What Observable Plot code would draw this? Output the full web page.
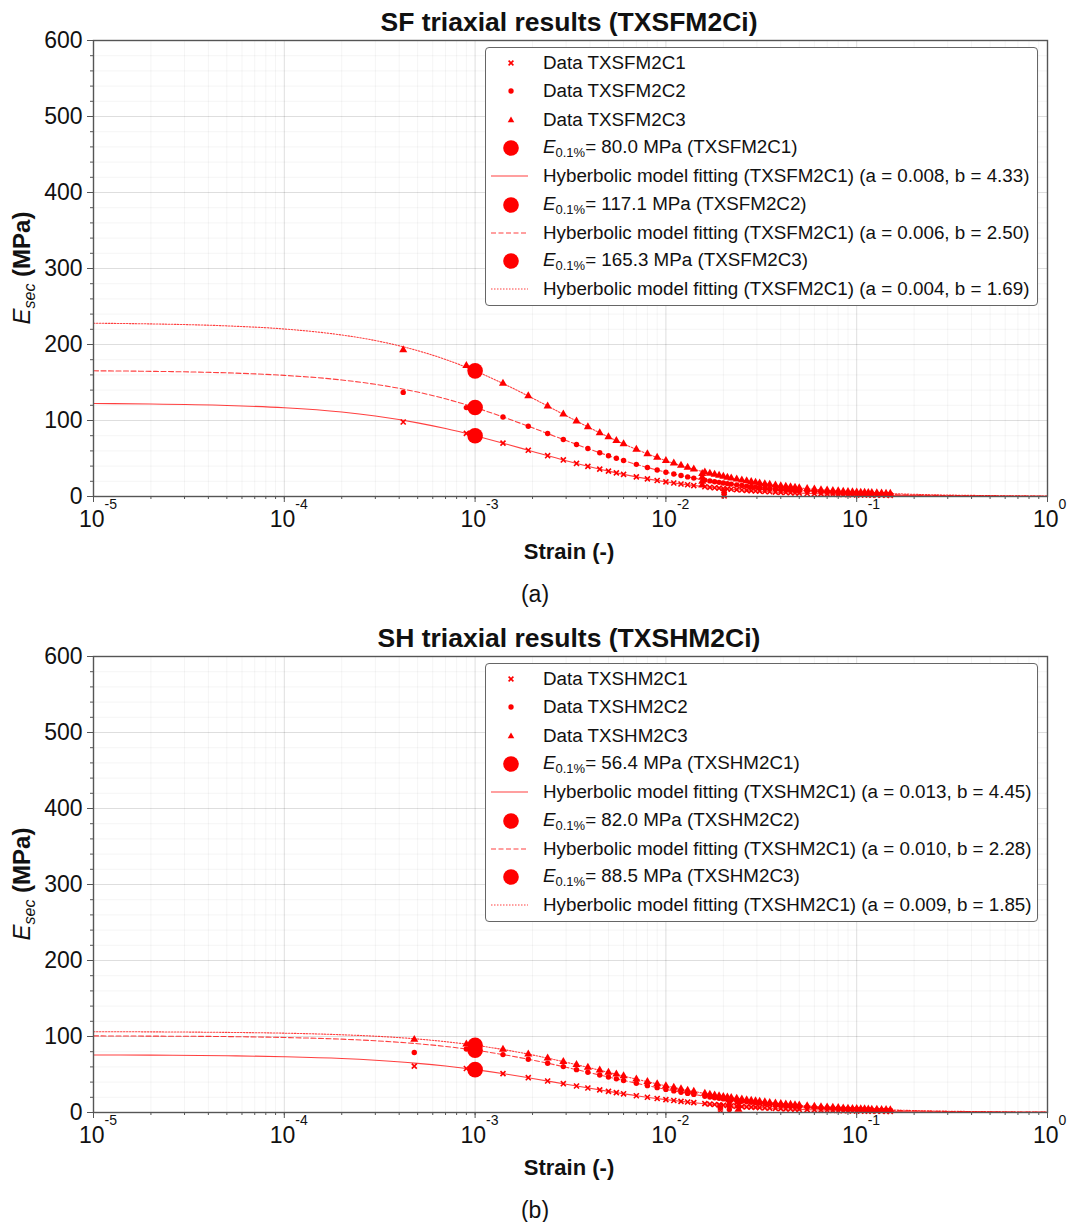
<!DOCTYPE html>
<html>
<head>
<meta charset="utf-8">
<script src="https://cdn.jsdelivr.net/npm/d3@7"></script>
<script src="https://cdn.jsdelivr.net/npm/@observablehq/plot@0.6"></script>
<style>
  html, body { margin: 0; padding: 0; background: #fff; overflow: hidden; }
  body { font-family: "Liberation Sans", Arial, sans-serif; color: #111; }
  #root { position: relative; width: 1067px; height: 1222px; }
  .panel { position: absolute; left: 0; width: 1067px; height: 616px; }
  .panel svg { position: absolute; left: 0; top: 0; }
  .lbl { position: absolute; white-space: nowrap; line-height: 1; transform: translate(-50%, -50%); }
  .legend { position: absolute; border: 1.3px solid #666; border-radius: 4px; background: #fff; }
  .row { position: absolute; left: 0; height: 24px; width: 100%; }
  .row svg { position: absolute; left: 0; top: 0; }
  .row span { position: absolute; left: 57px; top: 50%; transform: translateY(-50%); font-size: 18.8px; white-space: nowrap; line-height: 1; }
  sub.e { font-size: 13px; vertical-align: -4px; font-style: normal; }
</style>
</head>
<body>
<div id="root"></div>
<script>
// ---------------- data ----------------
// strains at which the test data points are plotted
const sfDataStrain = [0.00042,0.0009,0.0014,0.0019,0.0024,0.0029,0.0034,0.0039,0.0045,0.005,0.0055,0.006,0.007,0.008,0.009,0.01,0.011,0.012,0.013,0.014,0.016,0.018,0.02,0.022,0.025,0.028,0.031,0.035,0.04,0.045,0.05,0.06,0.07,0.08,0.09,0.1,0.11,0.12,0.135,0.15,
  0.017,0.019,0.021,0.0235,0.0265,0.0295,0.033,0.0375,0.0425,0.0475,0.055,0.065,0.075,0.085,0.095,0.105,0.115,0.1275,0.1425];
const sfC1 = [98,83,70.2,60.9,53.7,48.1,43.5,39.7,36.0,33.4,31.1,29.1,25.8,23.2,21.1,19.3,17.8,16.5,15.4,14.4,12.8,11.5,10.5,9.6,8.5,7.7,7.0,6.2,5.5,4.9,4.4,3.7,3.2,2.8,2.5,2.2,2.0,1.9,1.7,1.5,
  12.1,11.0,10.0,9.0,8.1,7.3,6.6,5.8,5.2,4.6,4.0,3.4,3.0,2.6,2.4,2.1,2.0,1.8,1.6];
const sfC2 = [137,117,104.7,92.5,82.9,75.0,68.5,63.1,57.6,53.7,50.3,47.3,42.3,38.2,34.8,32.0,29.6,27.6,25.8,24.2,21.6,19.5,17.7,16.3,14.5,13.1,11.9,10.6,9.4,8.4,7.6,6.4,5.5,4.8,4.3,3.9,3.5,3.2,2.9,2.6,
  20.5,18.6,17.0,15.3,13.7,12.4,11.2,9.9,8.8,8.0,6.9,5.9,5.1,4.5,4.1,3.7,3.4,3.1,2.7];
const sfC3 = [193,172,148.8,132.2,119.0,108.2,99.2,91.6,83.8,78.3,73.5,69.2,62.0,56.1,51.3,47.2,43.8,40.8,38.2,35.9,32.0,28.9,26.3,24.2,21.6,19.5,17.7,15.8,14.0,12.5,11.3,9.5,8.2,7.2,6.4,5.8,5.3,4.9,4.3,3.9,
  30.4,27.6,25.2,22.8,20.5,18.5,16.7,14.8,13.2,11.9,10.3,8.8,7.7,6.8,6.1,5.5,5.1,4.6,4.1];
// unloading drops seen near 2% strain
const sfC1DropStrain = [0.0202,0.0202,0.0202,0.0202];
const sfC1DropE = [8,5.5,3,0.8];
const sfC3DropStrain = [0.0155,0.0155,0.0155,0.0155];
const sfC3DropE = [30,25,20,15];

const shDataStrain = [0.00048,0.0009,0.0014,0.0019,0.0024,0.0029,0.0034,0.0039,0.0045,0.005,0.0055,0.006,0.007,0.008,0.009,0.01,0.011,0.012,0.013,0.014,0.016,0.018,0.02,0.022,0.025,0.028,0.031,0.035,0.04,0.045,0.05,0.06,0.07,0.08,0.09,0.1,0.11,0.12,0.135,0.15,
  0.017,0.019,0.021,0.0235,0.0265,0.0295,0.033,0.0375,0.0425,0.0475,0.055,0.065,0.075,0.085,0.095,0.105,0.115,0.1275,0.1425];
const shC1 = [61,57.9,51.1,45.8,41.4,37.9,34.8,32.3,29.7,27.8,26.1,24.6,22.1,20.1,18.4,17.0,15.8,14.7,13.8,13.0,11.6,10.5,9.6,8.8,7.8,7.1,6.5,5.8,5.1,4.6,4.1,3.5,3.0,2.6,2.4,2.1,1.9,1.8,1.6,1.4,
  11.0,10.0,9.2,8.3,7.4,6.8,6.1,5.4,4.8,4.3,3.8,3.2,2.8,2.5,2.2,2.0,1.9,1.7,1.5];
const shC2 = [79,83.5,76.2,70.1,64.9,60.4,56.4,53.0,49.4,46.7,44.3,42.2,38.5,35.3,32.7,30.4,28.4,26.7,25.1,23.8,21.4,19.5,17.9,16.5,14.8,13.5,12.3,11.1,9.8,8.8,8.0,6.8,5.9,5.2,4.6,4.2,3.8,3.5,3.1,2.8,
  20.4,18.7,17.2,15.6,14.1,12.9,11.7,10.4,9.3,8.4,7.3,6.3,5.5,4.9,4.4,4.0,3.6,3.3,3.0];
const shC3 = [96,90.0,82.9,76.8,71.6,67.0,63.0,59.4,55.6,52.8,50.3,48.0,43.9,40.5,37.6,35.1,32.9,31.0,29.2,27.7,25.0,22.8,21.0,19.5,17.5,15.9,14.6,13.1,11.7,10.5,9.5,8.1,7.0,6.2,5.5,5.0,4.6,4.2,3.7,3.4,
  23.9,21.9,20.2,18.4,16.7,15.2,13.8,12.3,11.0,10.0,8.7,7.5,6.6,5.8,5.2,4.8,4.4,4.0,3.6];
const shC1DropStrain = [0.0193,0.0193,0.0193];
const shC1DropE = [9,6,3];
const shC2DropStrain = [0.0215,0.0215,0.0215];
const shC2DropE = [13,8.5,4];
const shC3DropStrain = [0.024,0.024,0.024];
const shC3DropE = [14,9,4];

// fitted hyperbolic curves
const fitStrain = [1e-5,2e-5,5e-5,1e-4,2e-4,3e-4,5e-4,7e-4,1e-3,1.5e-3,2e-3,3e-3,5e-3,7e-3,1e-2,1.5e-2,2e-2,3e-2,5e-2,7e-2,0.1,0.2,0.5,1];
const sfFit1 = [122.3,121.7,119.8,116.7,111.1,105.9,96.9,89.4,80.0,68.1,59.3,47.1,33.4,25.8,19.3,13.6,10.5,7.2,4.4,3.2,2.2,1.13,0.46,0.23];
const sfFit2 = [165.4,164.7,162.7,159.4,153.3,147.6,137.4,128.5,117.1,102.0,90.4,73.6,53.7,42.3,32.0,22.8,17.7,12.3,7.6,5.5,3.9,1.96,0.79,0.40];
const sfFit3 = [228.0,227.1,224.5,220.4,212.5,205.2,191.9,180.3,165.3,145.1,129.4,106.3,78.3,62.0,47.2,33.8,26.3,18.3,11.3,8.2,5.8,2.9,1.18,0.59];
const shFit1 = [75.7,75.5,74.7,73.4,71.1,68.8,64.7,61.1,56.4,50.0,44.8,37.2,27.8,22.1,17.0,12.2,9.6,6.7,4.1,3.0,2.1,1.08,0.44,0.22];
const shFit2 = [100.8,100.5,99.9,98.7,96.5,94.4,90.5,86.9,82.0,74.9,69.0,59.5,46.7,38.5,30.4,22.5,17.9,12.7,8.0,5.9,4.2,2.1,0.86,0.43];
const shFit3 = [106.3,106.1,105.4,104.4,102.3,100.4,96.7,93.2,88.5,81.6,75.7,66.1,52.8,43.9,35.1,26.3,21.0,15.0,9.5,7.0,5.0,2.6,1.04,0.52];

// E at 0.1 % strain
const e01Strain = 0.001;
const sfE01 = [80.0, 117.1, 165.3];
const shE01 = [56.4, 82.0, 88.5];

// tick values and texts
const xMajorTicks = [1e-5,1e-4,1e-3,1e-2,1e-1,1];
const xExponents = ["-5","-4","-3","-2","-1","0"];
const yMajorTicks = [0,100,200,300,400,500,600];

const sfTitle = "SF triaxial results (TXSFM2Ci)";
const shTitle = "SH triaxial results (TXSHM2Ci)";
const sfNames = ["TXSFM2C1","TXSFM2C2","TXSFM2C3"];
const shNames = ["TXSHM2C1","TXSHM2C2","TXSHM2C3"];
const sfFitParams = ["(a = 0.008, b = 4.33)","(a = 0.006, b = 2.50)","(a = 0.004, b = 1.69)"];
const shFitParams = ["(a = 0.013, b = 4.45)","(a = 0.010, b = 2.28)","(a = 0.009, b = 1.85)"];
const xLabel = "Strain (-)";

// ---------------- drawing ----------------
const FONT = '"Liberation Sans", Arial, sans-serif';
const RED = "#ff0000";
const dashes = [null, "5,2.5", "1.5,1.5"];
const xMinorTicks = d3.scaleLog().domain([1e-5, 1]).ticks();
const yMinorTicks = d3.range(0, 601, 20);

function rows(xs, ys) { return xs.map((x, i) => ({x, y: ys[i]})); }

function chart(c) {
  const fitMarks = c.fits.map((f, i) =>
    Plot.line(rows(fitStrain, f), {x: "x", y: "y", stroke: RED, strokeOpacity: 0.75, strokeWidth: 1.1,
      strokeDasharray: dashes[i], curve: "monotone-x"}));
  return Plot.plot({
    width: 1067, height: 540,
    marginTop: 40, marginBottom: 44, marginLeft: 93, marginRight: 20,
    x: {type: "log", domain: [1e-5, 1], label: null},
    y: {domain: [0, 600], label: null},
    style: {fontFamily: FONT, background: "transparent", color: "#111"},
    marks: [
      Plot.gridX({ticks: xMinorTicks, stroke: "#000", strokeOpacity: 0.045}),
      Plot.gridY({ticks: yMinorTicks, stroke: "#000", strokeOpacity: 0.045}),
      Plot.gridX({ticks: xMajorTicks, stroke: "#000", strokeOpacity: 0.09}),
      Plot.gridY({ticks: yMajorTicks, stroke: "#000", strokeOpacity: 0.09}),
      Plot.axisY({ticks: yMinorTicks, tickSize: 3, tickFormat: () => "", stroke: "#555"}),
      Plot.axisY({ticks: yMajorTicks, tickSize: 6, tickPadding: 5, fontSize: 23, stroke: "#555", fill: "#111"}),
      Plot.axisX({ticks: xMinorTicks, tickSize: 3, tickFormat: () => "", stroke: "#555"}),
      Plot.axisX({ticks: xMajorTicks, tickSize: 6, tickFormat: () => "", stroke: "#555"}),
      Plot.text(xMajorTicks, {x: d => d, frameAnchor: "bottom", text: () => "10", textAnchor: "end",
        dx: 11, dy: 30, fontSize: 23, fill: "#111"}),
      Plot.text(xMajorTicks, {x: d => d, frameAnchor: "bottom", text: (d, i) => xExponents[i], textAnchor: "start",
        dx: 11, dy: 12, fontSize: 14, fill: "#111"}),
      ...fitMarks,
      Plot.dot(rows(c.strain, c.d1), {x: "x", y: "y", symbol: "times", r: 2.4, stroke: RED, strokeWidth: 1.6}),
      Plot.dot(rows(c.drop1[0], c.drop1[1]), {x: "x", y: "y", symbol: "times", r: 2.4, stroke: RED, strokeWidth: 1.6}),
      Plot.dot(rows(c.strain, c.d2), {x: "x", y: "y", r: 2.7, fill: RED}),
      Plot.dot(rows(c.drop2[0], c.drop2[1]), {x: "x", y: "y", r: 2.7, fill: RED}),
      Plot.dot(rows(c.strain, c.d3), {x: "x", y: "y", symbol: "triangle", r: 3, fill: RED}),
      Plot.dot(rows(c.drop3[0], c.drop3[1]), {x: "x", y: "y", symbol: "triangle", r: 3, fill: RED}),
      Plot.dot(c.e01, {x: () => e01Strain, y: d => d, r: 7.8, fill: RED}),
      Plot.frame({stroke: "#555", strokeWidth: 1.4})
    ]
  });
}

function symSvg(kind, dash) {
  const s = '<svg width="50" height="24" viewBox="0 0 50 24">';
  const cx = 25, cy = 12;
  let b = "";
  if (kind === "times") b = `<path d="M${cx-2.4},${cy-2.4}L${cx+2.4},${cy+2.4}M${cx+2.4},${cy-2.4}L${cx-2.4},${cy+2.4}" stroke="${RED}" stroke-width="1.6"/>`;
  else if (kind === "circle") b = `<circle cx="${cx}" cy="${cy}" r="2.7" fill="${RED}"/>`;
  else if (kind === "triangle") b = `<path d="M${cx},${cy-3.6}L${cx+3.3},${cy+2.2}L${cx-3.3},${cy+2.2}Z" fill="${RED}"/>`;
  else if (kind === "big") b = `<circle cx="${cx}" cy="${cy}" r="7.8" fill="${RED}"/>`;
  else b = `<line x1="5" x2="42" y1="${cy}" y2="${cy}" stroke="${RED}" stroke-opacity="0.75" stroke-width="1.2" ${dash ? `stroke-dasharray="${dash}"` : ""}/>`;
  return s + b + "</svg>";
}

function panel(top, c) {
  const p = document.createElement("div");
  p.className = "panel";
  p.style.top = top + "px";
  p.appendChild(chart(c));

  const add = (html, cx, cy, style) => {
    const d = document.createElement("div");
    d.className = "lbl";
    d.innerHTML = html;
    d.style.left = cx + "px"; d.style.top = cy + "px";
    Object.assign(d.style, style || {});
    p.appendChild(d);
    return d;
  };
  add(c.title, 569, 22, {fontSize: "26.5px", fontWeight: "bold"});
  add(xLabel, 569, 552, {fontSize: "22px", fontWeight: "bold"});
  add(c.caption, 535, 594, {fontSize: "23px"});
  add('<i>E</i><sub style="font-size:16px;font-style:italic;vertical-align:-5px">sec</sub> <b>(MPa)</b>', 24, 268,
      {fontSize: "24px", transform: "translate(-50%,-50%) rotate(-90deg)"});

  // legend
  const lg = document.createElement("div");
  lg.className = "legend";
  Object.assign(lg.style, {left: "485px", top: "47px", width: "551px", height: "257px"});
  const entries = [
    ["times", null, "Data " + c.names[0]],
    ["circle", null, "Data " + c.names[1]],
    ["triangle", null, "Data " + c.names[2]],
    ["big", null, `<i>E</i><sub class="e">0.1%</sub>= ${c.e01[0].toFixed(1)} MPa (${c.names[0]})`],
    ["line", dashes[0], `Hyberbolic model fitting (${c.names[0]}) ${c.params[0]}`],
    ["big", null, `<i>E</i><sub class="e">0.1%</sub>= ${c.e01[1].toFixed(1)} MPa (${c.names[1]})`],
    ["line", dashes[1], `Hyberbolic model fitting (${c.names[0]}) ${c.params[1]}`],
    ["big", null, `<i>E</i><sub class="e">0.1%</sub>= ${c.e01[2].toFixed(1)} MPa (${c.names[2]})`],
    ["line", dashes[2], `Hyberbolic model fitting (${c.names[0]}) ${c.params[2]}`]
  ];
  entries.forEach((e, i) => {
    const r = document.createElement("div");
    r.className = "row";
    r.style.top = (15 + i * 28.3 - 12) + "px";
    r.innerHTML = symSvg(e[0], e[1]) + `<span>${e[2]}</span>`;
    lg.appendChild(r);
  });
  p.appendChild(lg);
  document.getElementById("root").appendChild(p);
}

panel(0, {
  title: sfTitle, caption: "(a)", names: sfNames, params: sfFitParams,
  strain: sfDataStrain, d1: sfC1, d2: sfC2, d3: sfC3,
  drop1: [sfC1DropStrain, sfC1DropE], drop2: [[], []], drop3: [sfC3DropStrain, sfC3DropE],
  fits: [sfFit1, sfFit2, sfFit3], e01: sfE01
});
panel(616, {
  title: shTitle, caption: "(b)", names: shNames, params: shFitParams,
  strain: shDataStrain, d1: shC1, d2: shC2, d3: shC3,
  drop1: [shC1DropStrain, shC1DropE], drop2: [shC2DropStrain, shC2DropE], drop3: [shC3DropStrain, shC3DropE],
  fits: [shFit1, shFit2, shFit3], e01: shE01
});
</script>
</body>
</html>
